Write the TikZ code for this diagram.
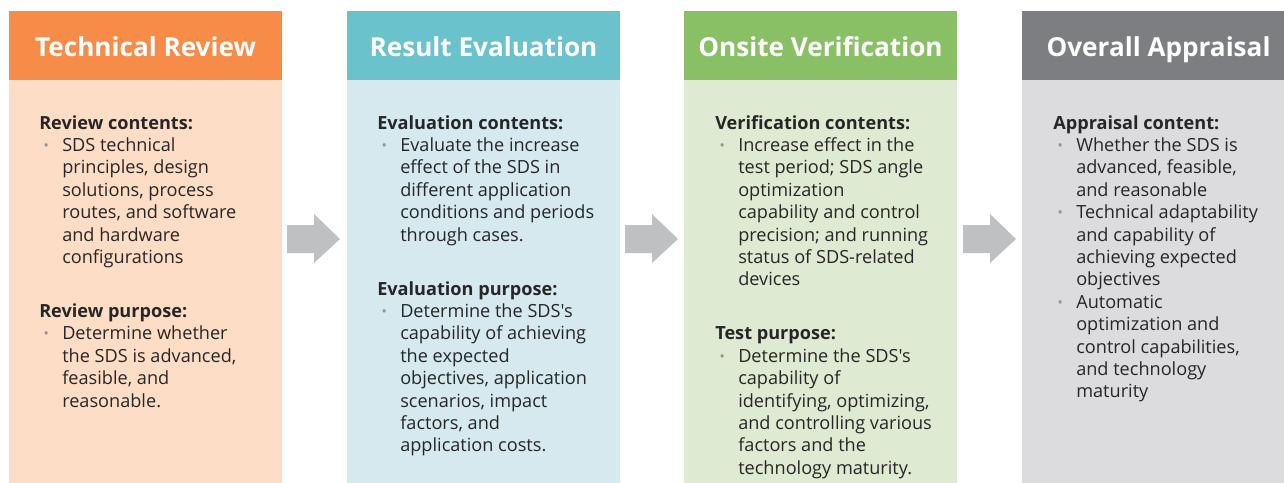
\documentclass[tikz,border=0pt]{standalone}
\usepackage{fontspec}
\setmainfont{Open Sans}[Ligatures=TeXOff]
\definecolor{hOrange}{HTML}{F78B48}
\definecolor{bOrange}{HTML}{FDDDC5}
\definecolor{hTeal}{HTML}{6AC2CC}
\definecolor{bTeal}{HTML}{D5E9EE}
\definecolor{hGreen}{HTML}{89C066}
\definecolor{bGreen}{HTML}{DFEAD3}
\definecolor{hGray}{HTML}{7D7E82}
\definecolor{bGray}{HTML}{DCDCDE}
\definecolor{arrowGray}{HTML}{BFC0C2}
\definecolor{txt}{HTML}{262626}
\definecolor{bulGray}{HTML}{929292}
\newcommand{\hd}[1]{\hspace*{-17.25pt}\textbf{#1}}
\newcommand{\bul}{\rule{0pt}{12pt}\llap{\textcolor{bulGray}{\fontsize{10.5pt}{10.5pt}\selectfont\raisebox{0.8pt}{•}}\hspace{10pt}}}
\tikzset{
  headbox/.style={fill=#1, draw=none},
  bodybox/.style={fill=#1, draw=none},
  headtext/.style={text=white, font=\fontsize{19.6pt}{19.6pt}\selectfont\bfseries, anchor=base, inner sep=0},
  bodytext/.style={text=txt, font=\fontsize{13.6pt}{16.8pt}\selectfont, align=left, anchor=north west, inner sep=0},
  flowarrow/.style={fill=arrowGray, draw=none}
}
\begin{document}
\begin{tikzpicture}[x=0.75pt,y=-0.75pt]
\useasboundingbox (0,0) rectangle (1284,482);
\clip (0,0) rectangle (1284,482);
% columns
\fill[bodybox=bOrange] (9,80) rectangle (282,490);
\fill[headbox=hOrange] (9,11) rectangle (282,80);
\fill[bodybox=bTeal] (347,80) rectangle (620,490);
\fill[headbox=hTeal] (347,11) rectangle (620,80);
\fill[bodybox=bGreen] (684,80) rectangle (957,490);
\fill[headbox=hGreen] (684,11) rectangle (957,80);
\fill[bodybox=bGray] (1022,80) rectangle (1295,490);
\fill[headbox=hGray] (1022,11) rectangle (1295,80);
% headers
\node[headtext] (h1) at (145.5,56) {Technical Review};
\node[headtext] (h2) at (483.5,56) {Result Evaluation};
\node[headtext] (h3) at (820.5,56) {Onsite Verification};
\node[headtext] (h4) at (1158.5,56) {Overall Appraisal};
% arrows
\foreach \xa in {287,625,963}{
  \fill[flowarrow] (\xa,225) -- (\xa+27,225) -- (\xa+27,214) -- (\xa+53,239) -- (\xa+27,263) -- (\xa+27,253) -- (\xa,253) -- cycle;
}
% body texts
\node[bodytext] (t1) at (62,115) {\hd{Review contents:}\\
\bul SDS technical\\
principles, design\\
solutions, process\\
routes, and software\\
and hardware\\
configurations\\[23.7pt]
\hd{Review purpose:}\\
\bul Determine whether\\
the SDS is advanced,\\
feasible, and\\
reasonable.};
\node[bodytext] (t2) at (400,115) {\hd{Evaluation contents:}\\
\bul Evaluate the increase\\
effect of the SDS in\\
different application\\
conditions and periods\\
through cases.\\[23.7pt]
\hd{Evaluation purpose:}\\
\bul Determine the SDS's\\
capability of achieving\\
the expected\\
objectives, application\\
scenarios, impact\\
factors, and\\
application costs.};
\node[bodytext] (t3) at (738,115) {\hd{Verification contents:}\\
\bul Increase effect in the\\
test period; SDS angle\\
optimization\\
capability and control\\
precision; and running\\
status of SDS-related\\
devices\\[23.7pt]
\hd{Test purpose:}\\
\bul Determine the SDS's\\
capability of\\
identifying, optimizing,\\
and controlling various\\
factors and the\\
technology maturity.};
\node[bodytext] (t4) at (1076,115) {\hd{Appraisal content:}\\
\bul Whether the SDS is\\
advanced, feasible,\\
and reasonable\\
\bul Technical adaptability\\
and capability of\\
achieving expected\\
objectives\\
\bul Automatic\\
optimization and\\
control capabilities,\\
and technology\\
maturity};
\end{tikzpicture}
\end{document}
